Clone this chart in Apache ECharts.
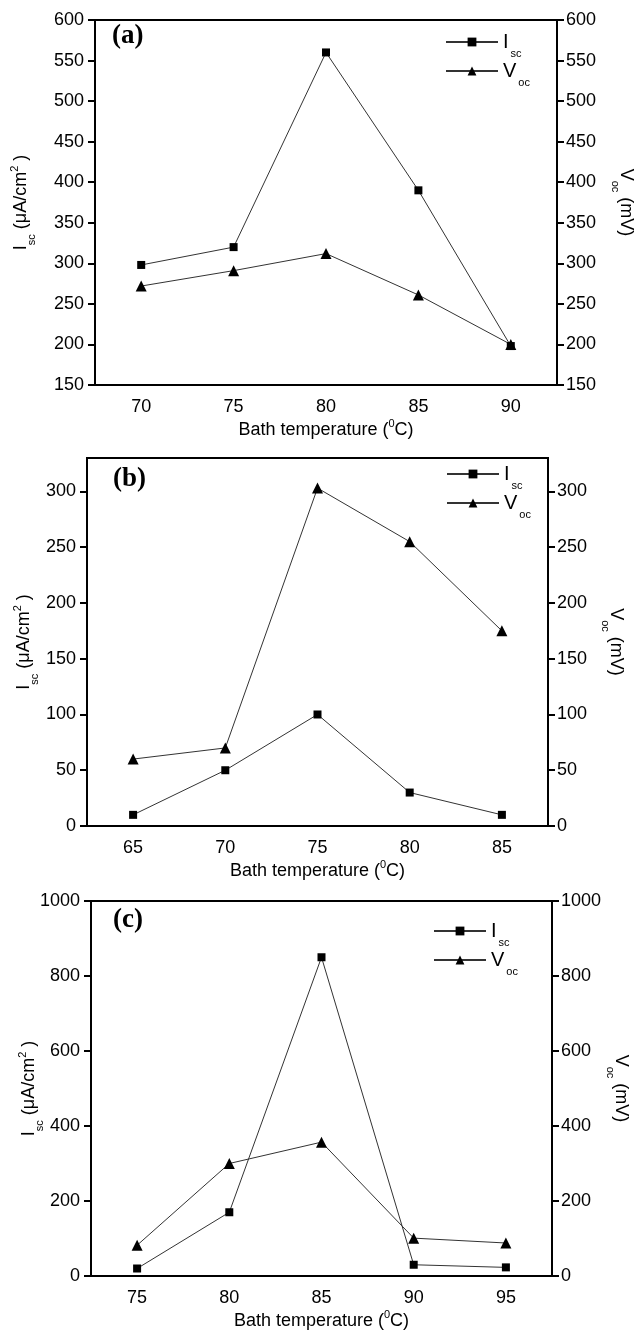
<!DOCTYPE html>
<html>
<head>
<meta charset="utf-8">
<script src="https://cdn.jsdelivr.net/npm/echarts@6/dist/echarts.min.js"></script>
<style>
html,body{margin:0;padding:0;background:#fff;}
#chart{width:639px;height:1331px;}
</style>
</head>
<body>
<div id="chart"></div>
<script>
// ---- data ----
const tempA = ['70', '75', '80', '85', '90'];
const iscA  = [298, 320, 560, 390, 198];
const vocA  = [272, 291, 312, 261, 200];

const tempB = ['65', '70', '75', '80', '85'];
const iscB  = [10, 50, 100, 30, 10];
const vocB  = [60, 70, 303, 255, 175];

const tempC = ['75', '80', '85', '90', '95'];
const iscC  = [20, 170, 850, 30, 23];
const vocC  = [82, 300, 357, 101, 88];

const yAxisA = {min: 150, max: 600, interval: 50};
const yAxisB = {min: 0, max: 330, interval: 50};
const yAxisC = {min: 0, max: 1000, interval: 200};

const panelLabels = ['(a)', '(b)', '(c)'];

// ---- styling ----
const FONT = 'Liberation Sans, Arial, Helvetica, sans-serif';
const grids = [
  {left: 95, top: 20, width: 462, height: 365},
  {left: 87, top: 458, width: 461, height: 368},
  {left: 91, top: 901, width: 461, height: 375}
];
const leftNameGap = [62, 51, 50];
const rightNameGap = [57, 56, 57];
const legendPos = [
  {left: 445, top: 32},
  {left: 446, top: 464},
  {left: 433, top: 921}
];
const labelPos = [
  {left: 112, top: 23},
  {left: 113, top: 466},
  {left: 113, top: 907}
];

const nameRich = {
  n:   {fontSize: 18, fontFamily: FONT, color: '#000', lineHeight: 24, verticalAlign: 'middle'},
  sub: {fontSize: 11, fontFamily: FONT, color: '#000', lineHeight: 11, verticalAlign: 'bottom', padding: [0, 0, -4, 0]},
  sup: {fontSize: 11, fontFamily: FONT, color: '#000', lineHeight: 11, verticalAlign: 'top'}
};

const cats = [tempA, tempB, tempC];
const iscs = [iscA, iscB, iscC];
const vocs = [vocA, vocB, vocC];
const yRanges = [yAxisA, yAxisB, yAxisC];

const option = {
  animation: false,
  backgroundColor: '#fff',
  grid: grids.map(g => Object.assign({
    show: true, borderColor: '#000', borderWidth: 2, backgroundColor: 'transparent',
    containLabel: false, outerBoundsMode: 'none'
  }, g)),
  title: panelLabels.map((t, i) => ({
    text: t, left: labelPos[i].left, top: labelPos[i].top, padding: 0,
    textStyle: {fontFamily: 'Liberation Serif, Times New Roman, serif', fontWeight: 'bold', fontSize: 27, color: '#000'}
  })),
  legend: legendPos.map((p, i) => ({
    orient: 'vertical', left: p.left, top: p.top,
    itemWidth: 52, itemHeight: 11, itemGap: 2, padding: 0,
    data: ['Isc' + i, 'Voc' + i],
    formatter: name => name.startsWith('Isc') ? '{m|I}{s|sc}' : '{m|V}{s|oc}',
    textStyle: {
      rich: {
        m: {fontSize: 20, fontFamily: FONT, color: '#000', lineHeight: 22},
        s: {fontSize: 11, fontFamily: FONT, color: '#000', lineHeight: 11, verticalAlign: 'bottom', padding: [0, 0, -6, 2]}
      }
    },
    selectedMode: false
  })),
  xAxis: cats.map((c, i) => ({
    type: 'category', gridIndex: i, data: c, boundaryGap: true,
    axisLine: {lineStyle: {color: '#000', width: 2}},
    axisTick: {alignWithLabel: true, length: 6, lineStyle: {color: '#000', width: 2}},
    axisLabel: {fontFamily: FONT, fontSize: 18, color: '#000', margin: 13},
    name: '{n|Bath temperature (}{sup|0}{n|C)}',
    nameLocation: 'middle', nameGap: 33, nameMoveOverlap: false,
    nameTextStyle: {rich: nameRich},
    splitLine: {show: false}
  })),
  yAxis: [],
  series: []
};

for (let i = 0; i < 3; i++) {
  const r = yRanges[i];
  const lbl = {fontFamily: FONT, fontSize: 18, color: '#000', margin: 11,
               showMaxLabel: r.max % r.interval === 0, formatter: v => String(v)};
  option.yAxis.push({
    type: 'value', gridIndex: i, position: 'left', min: r.min, max: r.max, interval: r.interval,
    axisLine: {show: true, lineStyle: {color: '#000', width: 2}},
    axisTick: {show: true, length: 7, lineStyle: {color: '#000', width: 2}},
    axisLabel: lbl,
    splitLine: {show: false},
    name: '{n|I}{sub|sc}{n| (μA/cm}{sup|2}{n| )}',
    nameLocation: 'middle', nameRotate: 90, nameGap: leftNameGap[i], nameMoveOverlap: false,
    nameTextStyle: {rich: nameRich}
  });
  option.yAxis.push({
    type: 'value', gridIndex: i, position: 'right', min: r.min, max: r.max, interval: r.interval,
    axisLine: {show: true, lineStyle: {color: '#000', width: 2}},
    axisTick: {show: true, length: 7, lineStyle: {color: '#000', width: 2}},
    axisLabel: Object.assign({}, lbl, {margin: 9}),
    splitLine: {show: false},
    name: '{n|V}{sub|oc}{n| (mV)}',
    nameLocation: 'middle', nameRotate: -90, nameGap: rightNameGap[i], nameMoveOverlap: false,
    nameTextStyle: {rich: nameRich}
  });
  option.series.push({
    name: 'Isc' + i, type: 'line', xAxisIndex: i, yAxisIndex: 2 * i, data: iscs[i],
    symbol: 'rect', symbolSize: 8,
    itemStyle: {color: '#000'}, lineStyle: {color: '#333', width: 1}
  });
  option.series.push({
    name: 'Voc' + i, type: 'line', xAxisIndex: i, yAxisIndex: 2 * i + 1, data: vocs[i],
    symbol: 'triangle', symbolSize: 11,
    itemStyle: {color: '#000'}, lineStyle: {color: '#333', width: 1}
  });
}

const chart = echarts.init(document.getElementById('chart'), null, {renderer: 'canvas'});
chart.setOption(option);
</script>
</body>
</html>
